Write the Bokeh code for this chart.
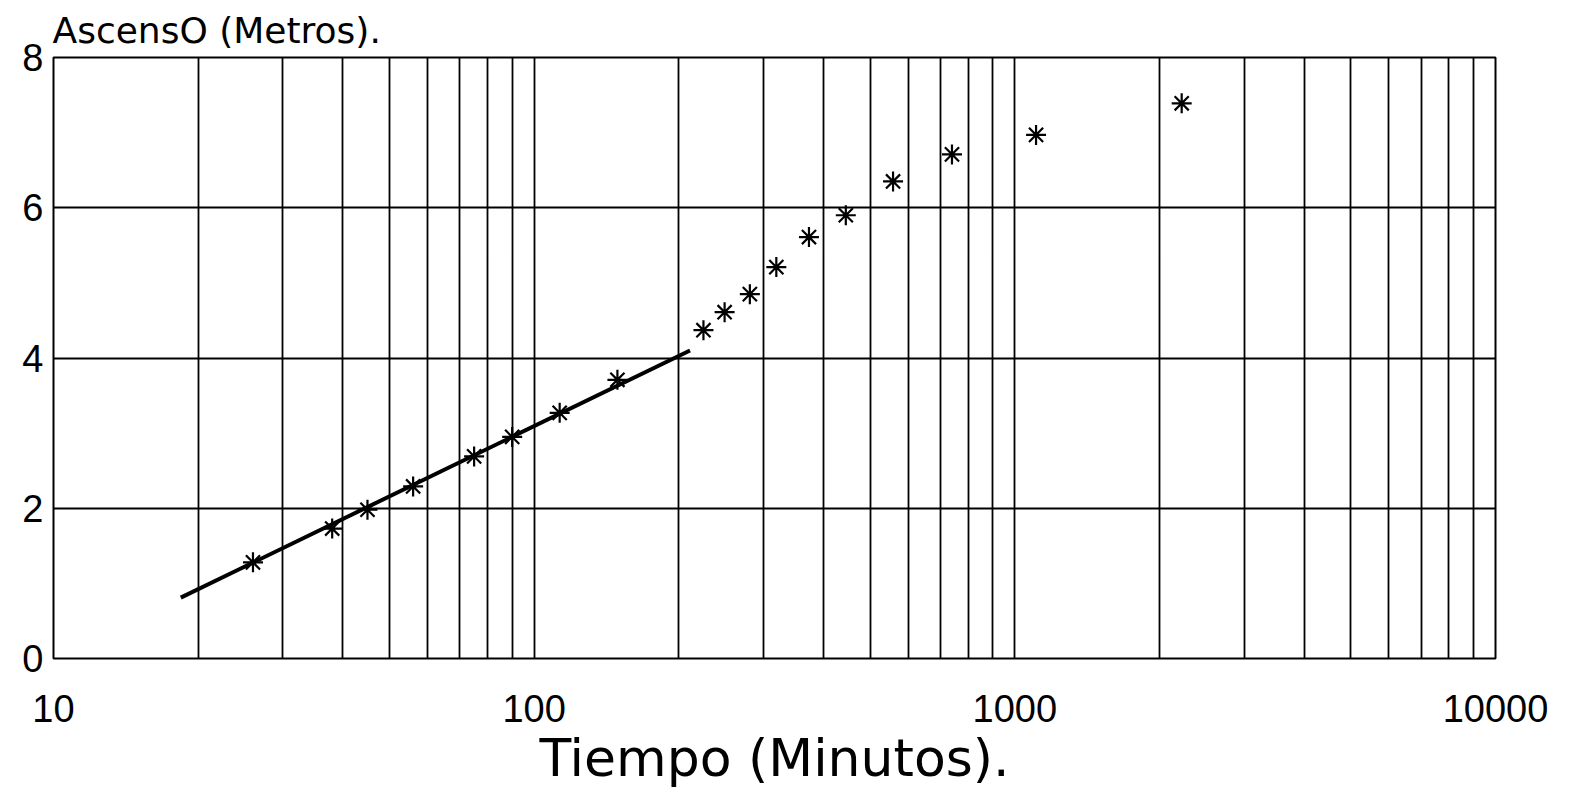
from bokeh.plotting import figure
from bokeh.models import FixedTicker, Range1d
from bokeh.embed import file_html
from bokeh.resources import INLINE

# Data
tiempo = [26, 38, 45, 56, 75, 90, 113, 149, 225, 249, 281, 319, 373, 445, 558, 740, 1107, 2224]
ascenso = [1.28, 1.73, 1.98, 2.29, 2.69, 2.95, 3.27, 3.71, 4.37, 4.61, 4.85, 5.21, 5.61, 5.90, 6.35, 6.71, 6.97, 7.39]
ajuste_tiempo = [18.4, 211]
ajuste_ascenso = [0.81, 4.10]

x_ticks = [10, 100, 1000, 10000]
y_ticks = [0, 2, 4, 6, 8]
x_grid = [m * 10 ** k for k in (1, 2, 3) for m in range(1, 10)] + [10000]
y_grid = [2, 4, 6]

p = figure(width=1566, height=790, x_axis_type="log",
           x_range=Range1d(10, 10000), y_range=Range1d(0, 8),
           output_backend="svg", toolbar_location=None,
           min_border_left=53, min_border_right=71,
           min_border_top=57, min_border_bottom=132,
           background_fill_color="white", border_fill_color="white")

p.outline_line_color = "black"
p.outline_line_width = 2
p.outline_line_alpha = 1

p.xgrid.ticker = FixedTicker(ticks=x_grid)
p.ygrid.ticker = FixedTicker(ticks=y_grid)
for g in (p.xgrid, p.ygrid):
    g.grid_line_color = "black"
    g.grid_line_width = 1.8
    g.grid_line_alpha = 1

p.xaxis.ticker = FixedTicker(ticks=x_ticks)
p.xaxis.major_label_overrides = {t: str(t) for t in x_ticks}
p.yaxis.ticker = FixedTicker(ticks=y_ticks)

for ax in (p.xaxis, p.yaxis):
    ax.axis_line_color = None
    ax.major_tick_line_color = None
    ax.minor_tick_line_color = None
    ax.major_tick_out = 0
    ax.major_tick_in = 0
    ax.major_label_text_font = "Liberation Sans"
    ax.major_label_text_font_size = "38px"
    ax.major_label_text_color = "black"
p.xaxis.major_label_standoff = 36
p.yaxis.major_label_standoff = 10

p.xaxis.axis_label = "Tiempo (Minutos)."
p.xaxis.axis_label_text_font = "DejaVu Sans"
p.xaxis.axis_label_text_font_size = "52px"
p.xaxis.axis_label_text_font_style = "normal"
p.xaxis.axis_label_text_color = "black"
p.xaxis.axis_label_standoff = 3

p.title.text = "AscensO (Metros)."
p.title.align = "left"
p.title.text_font = "DejaVu Sans"
p.title.text_font_size = "36px"
p.title.text_font_style = "normal"
p.title.text_color = "black"
p.title.standoff = 14
p.title.offset = -1

p.line(ajuste_tiempo, ajuste_ascenso, line_width=4, line_color="black")
p.scatter(tiempo, ascenso, marker="asterisk", size=20, line_width=2.2,
          line_color="black")

open("out.html", "w").write(file_html(p, INLINE))
